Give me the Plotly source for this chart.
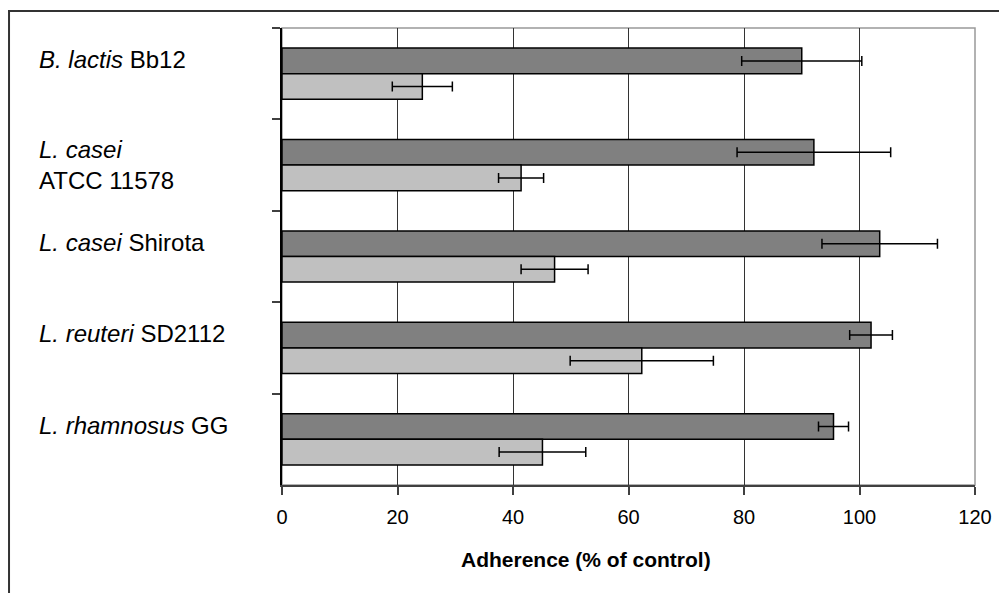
import plotly.graph_objects as go

categories = ["B. lactis Bb12", "L. casei ATCC 11578", "L. casei Shirota",
              "L. reuteri SD2112", "L. rhamnosus GG"]
label_html = ["<i>B. lactis</i> Bb12", "<i>L. casei</i><br>ATCC 11578",
              "<i>L. casei</i> Shirota", "<i>L. reuteri</i> SD2112",
              "<i>L. rhamnosus</i> GG"]
label_shift = [14, 0, 14, 14, 14]

dark_values = [90.0, 92.1, 103.5, 102.0, 95.5]
dark_errors = [10.4, 13.3, 10.0, 3.7, 2.6]
light_values = [24.3, 41.4, 47.2, 62.3, 45.1]
light_errors = [5.2, 3.9, 5.8, 12.4, 7.5]

x_ticks = [0, 20, 40, 60, 80, 100, 120]

fig = go.Figure()
fig.add_trace(go.Bar(
    y=categories, x=dark_values, orientation="h", name="dark",
    marker=dict(color="#808080", line=dict(color="#000000", width=1.5)),
    error_x=dict(type="data", array=dark_errors, color="#000000", thickness=1.5, width=5),
    hoverinfo="skip"))
fig.add_trace(go.Bar(
    y=categories, x=light_values, orientation="h", name="light",
    marker=dict(color="#c0c0c0", line=dict(color="#000000", width=1.5)),
    error_x=dict(type="data", array=light_errors, color="#000000", thickness=1.5, width=5),
    hoverinfo="skip"))

font_family = "Arial, Liberation Sans, sans-serif"

annotations = []
for cat, txt, sh in zip(categories, label_html, label_shift):
    annotations.append(dict(
        x=-0.3535, xref="paper", y=cat, yref="y", yshift=sh,
        text=txt, showarrow=False, xanchor="left", yanchor="middle", align="left",
        font=dict(family=font_family, size=24, color="#000000")))
annotations.append(dict(
    x=0.4387, xref="paper", y=-0.164, yref="paper",
    text="<b>Adherence (% of control)</b>", showarrow=False,
    xanchor="center", yanchor="middle",
    font=dict(family=font_family, size=21, color="#000000")))

shapes = [
    # plot area border
    dict(type="rect", xref="paper", yref="paper", x0=0, y0=0, x1=1, y1=1,
         line=dict(color="#999999", width=1.5), layer="below"),
    # outer frame
    dict(type="rect", xref="paper", yref="paper", x0=-0.3939, y0=-0.3, x1=1.06, y1=1.0372,
         line=dict(color="#333333", width=2)),
]

fig.update_layout(
    width=999, height=585,
    margin=dict(l=274, r=32, t=20, b=108),
    paper_bgcolor="#ffffff", plot_bgcolor="#ffffff",
    barmode="group", bargap=0.44, bargroupgap=0,
    showlegend=False,
    annotations=annotations, shapes=shapes,
    font=dict(family=font_family, color="#000000"),
    xaxis=dict(range=[0, 120], tickvals=x_ticks, ticktext=[str(v) for v in x_ticks],
               showgrid=True, gridcolor="#333333", gridwidth=1,
               showline=True, linecolor="#404040", linewidth=2,
               ticks="outside", ticklen=8, tickcolor="#404040", tickwidth=1.5,
               tickfont=dict(size=20, family=font_family, color="#000000"),
               ticklabelstandoff=5, zeroline=False, fixedrange=True),
    yaxis=dict(autorange="reversed", showticklabels=False,
               showline=True, linecolor="#000000", linewidth=1.5,
               ticks="outside", ticklen=8, tickcolor="#404040", tickwidth=1.5,
               tickson="boundaries", showgrid=False, zeroline=False, fixedrange=True),
)

fig.write_html("out.html")
